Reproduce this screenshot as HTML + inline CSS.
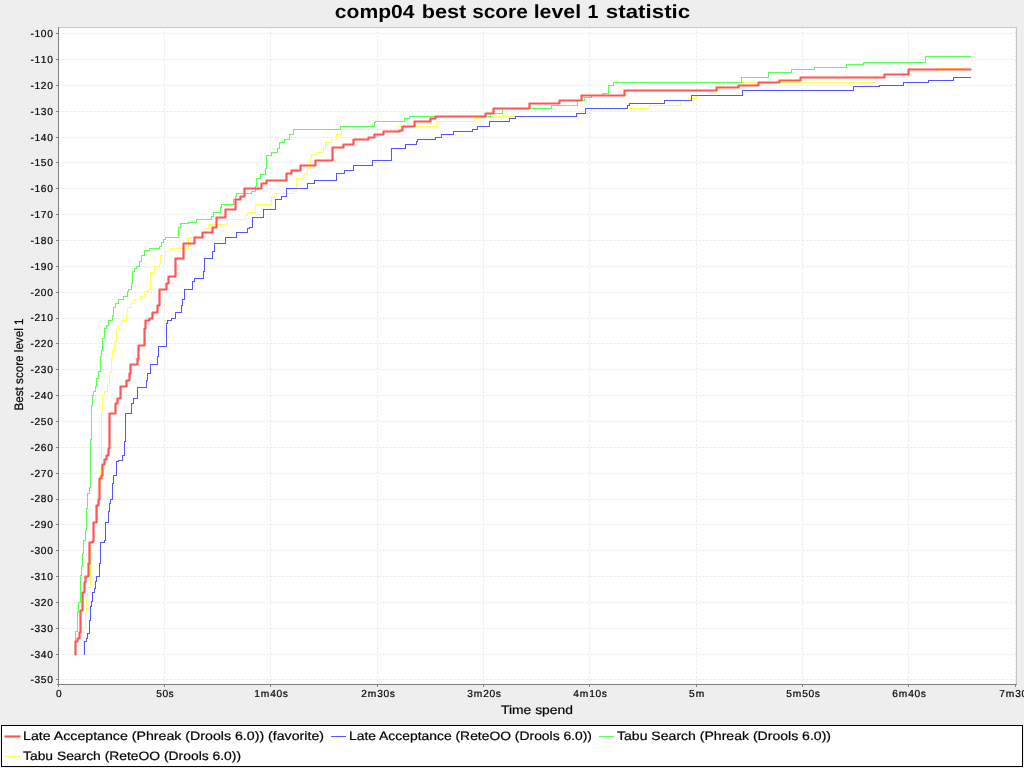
<!DOCTYPE html>
<html><head><meta charset="utf-8"><title>comp04 best score level 1 statistic</title>
<style>html,body{margin:0;padding:0;width:1024px;height:768px;overflow:hidden;background:#eeeeee;font-family:"Liberation Sans",sans-serif}</style>
</head><body>
<svg width="1024" height="768" viewBox="0 0 1024 768" style="position:absolute;left:0;top:0;will-change:transform">
<rect x="0" y="0" width="1024" height="768" fill="#eeeeee"/>
<rect x="58" y="27" width="958" height="657" fill="#ffffff"/>
<path d="M58 33.5 H1016 M58 59.5 H1016 M58 85.5 H1016 M58 111.5 H1016 M58 137.5 H1016 M58 162.5 H1016 M58 188.5 H1016 M58 214.5 H1016 M58 240.5 H1016 M58 266.5 H1016 M58 292.5 H1016 M58 318.5 H1016 M58 343.5 H1016 M58 369.5 H1016 M58 395.5 H1016 M58 421.5 H1016 M58 447.5 H1016 M58 473.5 H1016 M58 499.5 H1016 M58 524.5 H1016 M58 550.5 H1016 M58 576.5 H1016 M58 602.5 H1016 M58 628.5 H1016 M58 654.5 H1016 M58 679.5 H1016 M164.5 27 V684 M270.5 27 V684 M377.5 27 V684 M483.5 27 V684 M589.5 27 V684 M696.5 27 V684 M802.5 27 V684 M908.5 27 V684 M1015.5 27 V684" stroke="#e6e6e6" stroke-width="1" stroke-dasharray="2 2" stroke-dashoffset="-0.5" fill="none"/>
<path d="M58 27.5 H1016.5 V684" stroke="#c4c4c4" stroke-width="1" fill="none"/>
<path d="M83.5 654.5H83.5V627.5H85.5V612.5H86.5V597.5H87.5V587.5H90.5V545.5H93.5V522.5H97.5V487.5H100.5V470.5H101.5V411.5H102.5V395.5H104.5V391.5H107.5V385.5H109.5V372.5H111.5V358.5H112.5V350.5H114.5V341.5H116.5V329.5H118.5V325.5H121.5V320.5H126.5V314.5H127.5V307.5H131.5V303.5H134.5V299.5H140.5V296.5H144.5V291.5H148.5V289.5H150.5V278.5H150.5V272.5H154.5V266.5H159.5V263.5H160.5V255.5H165.5V251.5H170.5V248.5H188.5V238.5H191.5V237.5H205.5V228.5H208.5V224.5H227.5V219.5H245.5V215.5H247.5V212.5H255.5V204.5H271.5V197.5H274.5V193.5H293.5V191.5H296.5V178.5H303.5V174.5H307.5V168.5H310.5V158.5H311.5V154.5H315.5V152.5H323.5V148.5H325.5V142.5H331.5V139.5H336.5V134.5H341.5V129.5H397.5V126.5H436.5V121.5H474.5V118.5H480.5V117.5H486.5V116.5H577.5V113.5H591.5V108.5H649.5V105.5H680.5V100.5H688.5V98.5H696.5V95.5H709.5V93.5H716.5V86.5H723.5V83.5H741.5V82.5H875.5V77.5H908.5V71.5H936.5V68.5H963.5V67.5H970.5V67.5" stroke="#ffff55" stroke-width="1" fill="none" stroke-linejoin="miter" shape-rendering="crispEdges"/>
<path d="M75.5 654.5H75.5V631.5H77.5V612.5H78.5V602.5H80.5V575.5H81.5V566.5H82.5V553.5H83.5V540.5H85.5V530.5H86.5V508.5H87.5V493.5H89.5V487.5H90.5V470.5H90.5V439.5H91.5V405.5H92.5V395.5H93.5V391.5H95.5V386.5H96.5V378.5H98.5V371.5H100.5V356.5H101.5V350.5H102.5V338.5H104.5V328.5H106.5V325.5H108.5V320.5H112.5V315.5H113.5V307.5H115.5V303.5H118.5V299.5H123.5V296.5H127.5V291.5H128.5V289.5H131.5V283.5H132.5V278.5H132.5V271.5H134.5V268.5H136.5V266.5H139.5V261.5H141.5V255.5H144.5V250.5H149.5V248.5H159.5V246.5H161.5V242.5H163.5V239.5H165.5V237.5H178.5V227.5H180.5V223.5H188.5V222.5H196.5V219.5H211.5V216.5H213.5V212.5H220.5V207.5H221.5V204.5H233.5V199.5H235.5V196.5H236.5V193.5H251.5V191.5H255.5V186.5H256.5V178.5H260.5V174.5H265.5V168.5H266.5V155.5H271.5V152.5H277.5V148.5H279.5V142.5H284.5V139.5H289.5V134.5H293.5V129.5H340.5V126.5H374.5V122.5H375.5V121.5H404.5V118.5H409.5V116.5H490.5V113.5H502.5V108.5H551.5V105.5H577.5V100.5H584.5V97.5H591.5V95.5H602.5V93.5H608.5V85.5H613.5V82.5H741.5V77.5H768.5V72.5H791.5V69.5H814.5V67.5H846.5V64.5H863.5V62.5H925.5V56.5H970.5V56.5" stroke="#55ff55" stroke-width="1" fill="none" stroke-linejoin="miter" shape-rendering="crispEdges"/>
<path d="M84.5 654.5H84.5V641.5H86.5V638.5H87.5V633.5H89.5V620.5H90.5V606.5H91.5V601.5H92.5V592.5H94.5V588.5H95.5V581.5H96.5V576.5H99.5V563.5H100.5V542.5H104.5V540.5H105.5V522.5H108.5V511.5H109.5V503.5H110.5V499.5H112.5V483.5H113.5V475.5H116.5V470.5H116.5V461.5H118.5V460.5H122.5V455.5H124.5V441.5H125.5V413.5H131.5V403.5H133.5V398.5H137.5V387.5H146.5V380.5H147.5V373.5H150.5V364.5H157.5V356.5H158.5V346.5H166.5V323.5H167.5V320.5H171.5V318.5H175.5V312.5H181.5V305.5H182.5V299.5H184.5V289.5H192.5V281.5H194.5V278.5H203.5V271.5H204.5V258.5H212.5V251.5H214.5V243.5H225.5V237.5H236.5V232.5H247.5V228.5H249.5V227.5H252.5V217.5H263.5V209.5H275.5V199.5H281.5V196.5H286.5V188.5H307.5V183.5H314.5V180.5H336.5V173.5H344.5V170.5H353.5V165.5H372.5V160.5H391.5V148.5H405.5V144.5H416.5V141.5H417.5V139.5H435.5V137.5H441.5V134.5H453.5V131.5H472.5V129.5H477.5V126.5H489.5V121.5H509.5V118.5H515.5V116.5H576.5V113.5H585.5V108.5H627.5V105.5H629.5V103.5H664.5V100.5H691.5V95.5H742.5V90.5H853.5V86.5H879.5V85.5H903.5V82.5H928.5V80.5H953.5V77.5H970.5V77.5" stroke="#5555ff" stroke-width="1" fill="none" stroke-linejoin="miter" shape-rendering="crispEdges"/>
<path d="M75.5 654.5H75.5V641.5H77.5V638.5H79.5V632.5H80.5V610.5H82.5V601.5H82.5V592.5H84.5V582.5H85.5V576.5H88.5V563.5H89.5V542.5H92.5V541.5H93.5V522.5H96.5V505.5H98.5V499.5H99.5V478.5H101.5V475.5H102.5V470.5H102.5V464.5H104.5V459.5H106.5V455.5H108.5V448.5H109.5V413.5H115.5V403.5H117.5V398.5H120.5V386.5H126.5V380.5H129.5V373.5H130.5V364.5H137.5V358.5H138.5V345.5H144.5V328.5H145.5V320.5H149.5V318.5H152.5V312.5H157.5V305.5H159.5V289.5H166.5V283.5H168.5V278.5H168.5V276.5H175.5V258.5H183.5V243.5H194.5V237.5H202.5V232.5H212.5V227.5H216.5V217.5H225.5V209.5H235.5V199.5H240.5V196.5H244.5V188.5H261.5V183.5H266.5V180.5H286.5V173.5H291.5V170.5H300.5V165.5H315.5V160.5H332.5V147.5H343.5V144.5H353.5V139.5H368.5V137.5H374.5V134.5H383.5V131.5H399.5V130.5H402.5V126.5H414.5V121.5H430.5V118.5H435.5V116.5H485.5V113.5H493.5V108.5H529.5V103.5H559.5V100.5H581.5V95.5H624.5V90.5H716.5V87.5H738.5V85.5H758.5V82.5H779.5V80.5H800.5V77.5H884.5V74.5H908.5V69.5H970.5V69.5" stroke="#ff5555" stroke-width="2.2" fill="none" stroke-linejoin="round" stroke-linecap="round"/>
<path d="M58.5 27 V685 M57 684.5 H1017" stroke="#808080" stroke-width="1" fill="none"/>
<path d="M56 33.5 H58 M56 59.5 H58 M56 85.5 H58 M56 111.5 H58 M56 137.5 H58 M56 162.5 H58 M56 188.5 H58 M56 214.5 H58 M56 240.5 H58 M56 266.5 H58 M56 292.5 H58 M56 318.5 H58 M56 343.5 H58 M56 369.5 H58 M56 395.5 H58 M56 421.5 H58 M56 447.5 H58 M56 473.5 H58 M56 499.5 H58 M56 524.5 H58 M56 550.5 H58 M56 576.5 H58 M56 602.5 H58 M56 628.5 H58 M56 654.5 H58 M56 679.5 H58 M58.5 685 V687 M164.5 685 V687 M270.5 685 V687 M377.5 685 V687 M483.5 685 V687 M589.5 685 V687 M696.5 685 V687 M802.5 685 V687 M908.5 685 V687 M1015.5 685 V687" stroke="#808080" stroke-width="1" fill="none"/>
<text x="30.62 34.46 40.82 47.18" y="37" font-family="Liberation Sans, sans-serif" text-rendering="geometricPrecision" stroke="#000" stroke-width="0.2" font-size="10.2" fill="#000">-100</text>
<text x="30.62 34.46 40.82 47.18" y="63" font-family="Liberation Sans, sans-serif" text-rendering="geometricPrecision" stroke="#000" stroke-width="0.2" font-size="10.2" fill="#000">-110</text>
<text x="30.62 34.46 40.82 47.18" y="89" font-family="Liberation Sans, sans-serif" text-rendering="geometricPrecision" stroke="#000" stroke-width="0.2" font-size="10.2" fill="#000">-120</text>
<text x="30.62 34.46 40.82 47.18" y="115" font-family="Liberation Sans, sans-serif" text-rendering="geometricPrecision" stroke="#000" stroke-width="0.2" font-size="10.2" fill="#000">-130</text>
<text x="30.62 34.46 40.82 47.18" y="141" font-family="Liberation Sans, sans-serif" text-rendering="geometricPrecision" stroke="#000" stroke-width="0.2" font-size="10.2" fill="#000">-140</text>
<text x="30.62 34.46 40.82 47.18" y="166" font-family="Liberation Sans, sans-serif" text-rendering="geometricPrecision" stroke="#000" stroke-width="0.2" font-size="10.2" fill="#000">-150</text>
<text x="30.62 34.46 40.82 47.18" y="192" font-family="Liberation Sans, sans-serif" text-rendering="geometricPrecision" stroke="#000" stroke-width="0.2" font-size="10.2" fill="#000">-160</text>
<text x="30.62 34.46 40.82 47.18" y="218" font-family="Liberation Sans, sans-serif" text-rendering="geometricPrecision" stroke="#000" stroke-width="0.2" font-size="10.2" fill="#000">-170</text>
<text x="30.62 34.46 40.82 47.18" y="244" font-family="Liberation Sans, sans-serif" text-rendering="geometricPrecision" stroke="#000" stroke-width="0.2" font-size="10.2" fill="#000">-180</text>
<text x="30.62 34.46 40.82 47.18" y="270" font-family="Liberation Sans, sans-serif" text-rendering="geometricPrecision" stroke="#000" stroke-width="0.2" font-size="10.2" fill="#000">-190</text>
<text x="30.62 34.46 40.82 47.18" y="296" font-family="Liberation Sans, sans-serif" text-rendering="geometricPrecision" stroke="#000" stroke-width="0.2" font-size="10.2" fill="#000">-200</text>
<text x="30.62 34.46 40.82 47.18" y="321" font-family="Liberation Sans, sans-serif" text-rendering="geometricPrecision" stroke="#000" stroke-width="0.2" font-size="10.2" fill="#000">-210</text>
<text x="30.62 34.46 40.82 47.18" y="347" font-family="Liberation Sans, sans-serif" text-rendering="geometricPrecision" stroke="#000" stroke-width="0.2" font-size="10.2" fill="#000">-220</text>
<text x="30.62 34.46 40.82 47.18" y="373" font-family="Liberation Sans, sans-serif" text-rendering="geometricPrecision" stroke="#000" stroke-width="0.2" font-size="10.2" fill="#000">-230</text>
<text x="30.62 34.46 40.82 47.18" y="399" font-family="Liberation Sans, sans-serif" text-rendering="geometricPrecision" stroke="#000" stroke-width="0.2" font-size="10.2" fill="#000">-240</text>
<text x="30.62 34.46 40.82 47.18" y="425" font-family="Liberation Sans, sans-serif" text-rendering="geometricPrecision" stroke="#000" stroke-width="0.2" font-size="10.2" fill="#000">-250</text>
<text x="30.62 34.46 40.82 47.18" y="451" font-family="Liberation Sans, sans-serif" text-rendering="geometricPrecision" stroke="#000" stroke-width="0.2" font-size="10.2" fill="#000">-260</text>
<text x="30.62 34.46 40.82 47.18" y="477" font-family="Liberation Sans, sans-serif" text-rendering="geometricPrecision" stroke="#000" stroke-width="0.2" font-size="10.2" fill="#000">-270</text>
<text x="30.62 34.46 40.82 47.18" y="502" font-family="Liberation Sans, sans-serif" text-rendering="geometricPrecision" stroke="#000" stroke-width="0.2" font-size="10.2" fill="#000">-280</text>
<text x="30.62 34.46 40.82 47.18" y="528" font-family="Liberation Sans, sans-serif" text-rendering="geometricPrecision" stroke="#000" stroke-width="0.2" font-size="10.2" fill="#000">-290</text>
<text x="30.62 34.46 40.82 47.18" y="554" font-family="Liberation Sans, sans-serif" text-rendering="geometricPrecision" stroke="#000" stroke-width="0.2" font-size="10.2" fill="#000">-300</text>
<text x="30.62 34.46 40.82 47.18" y="580" font-family="Liberation Sans, sans-serif" text-rendering="geometricPrecision" stroke="#000" stroke-width="0.2" font-size="10.2" fill="#000">-310</text>
<text x="30.62 34.46 40.82 47.18" y="606" font-family="Liberation Sans, sans-serif" text-rendering="geometricPrecision" stroke="#000" stroke-width="0.2" font-size="10.2" fill="#000">-320</text>
<text x="30.62 34.46 40.82 47.18" y="632" font-family="Liberation Sans, sans-serif" text-rendering="geometricPrecision" stroke="#000" stroke-width="0.2" font-size="10.2" fill="#000">-330</text>
<text x="30.62 34.46 40.82 47.18" y="658" font-family="Liberation Sans, sans-serif" text-rendering="geometricPrecision" stroke="#000" stroke-width="0.2" font-size="10.2" fill="#000">-340</text>
<text x="30.62 34.46 40.82 47.18" y="683" font-family="Liberation Sans, sans-serif" text-rendering="geometricPrecision" stroke="#000" stroke-width="0.2" font-size="10.2" fill="#000">-350</text>
<text x="55.96" y="697" font-family="Liberation Sans, sans-serif" text-rendering="geometricPrecision" stroke="#000" stroke-width="0.2" font-size="10.2" fill="#000">0</text>
<text x="156.18 162.54 168.61" y="697" font-family="Liberation Sans, sans-serif" text-rendering="geometricPrecision" stroke="#000" stroke-width="0.2" font-size="10.2" fill="#000">50s</text>
<text x="254.13 260.77 270.23 276.59 282.66" y="697" font-family="Liberation Sans, sans-serif" text-rendering="geometricPrecision" stroke="#000" stroke-width="0.2" font-size="10.2" fill="#000">1m40s</text>
<text x="361.13 367.77 377.23 383.59 389.66" y="697" font-family="Liberation Sans, sans-serif" text-rendering="geometricPrecision" stroke="#000" stroke-width="0.2" font-size="10.2" fill="#000">2m30s</text>
<text x="467.13 473.77 483.23 489.59 495.66" y="697" font-family="Liberation Sans, sans-serif" text-rendering="geometricPrecision" stroke="#000" stroke-width="0.2" font-size="10.2" fill="#000">3m20s</text>
<text x="573.13 579.77 589.23 595.59 601.66" y="697" font-family="Liberation Sans, sans-serif" text-rendering="geometricPrecision" stroke="#000" stroke-width="0.2" font-size="10.2" fill="#000">4m10s</text>
<text x="689.09 695.73" y="697" font-family="Liberation Sans, sans-serif" text-rendering="geometricPrecision" stroke="#000" stroke-width="0.2" font-size="10.2" fill="#000">5m</text>
<text x="786.13 792.77 802.23 808.59 814.66" y="697" font-family="Liberation Sans, sans-serif" text-rendering="geometricPrecision" stroke="#000" stroke-width="0.2" font-size="10.2" fill="#000">5m50s</text>
<text x="892.13 898.77 908.23 914.59 920.66" y="697" font-family="Liberation Sans, sans-serif" text-rendering="geometricPrecision" stroke="#000" stroke-width="0.2" font-size="10.2" fill="#000">6m40s</text>
<text x="999.13 1005.77 1015.23 1021.59 1027.66" y="697" font-family="Liberation Sans, sans-serif" text-rendering="geometricPrecision" stroke="#000" stroke-width="0.2" font-size="10.2" fill="#000">7m30s</text>
<text x="537" y="714" font-family="Liberation Sans, sans-serif" text-rendering="geometricPrecision" stroke="#000" stroke-width="0.2" font-size="12.2" text-anchor="middle" textLength="72" lengthAdjust="spacingAndGlyphs" fill="#000">Time spend</text>
<text transform="translate(22.5 364.5) rotate(-90)" x="0" y="0" font-family="Liberation Sans, sans-serif" text-rendering="geometricPrecision" stroke="#000" stroke-width="0.2" font-size="12.2" text-anchor="middle" textLength="92" lengthAdjust="spacingAndGlyphs" fill="#000">Best score level 1</text>
<text x="334.80" y="18" font-family="Liberation Sans, sans-serif" text-rendering="geometricPrecision" font-weight="bold" font-size="19" textLength="79.75" lengthAdjust="spacingAndGlyphs" fill="#000">comp04</text>
<text x="421.70" y="18" font-family="Liberation Sans, sans-serif" text-rendering="geometricPrecision" font-weight="bold" font-size="19" textLength="44.60" lengthAdjust="spacingAndGlyphs" fill="#000">best</text>
<text x="472.20" y="18" font-family="Liberation Sans, sans-serif" text-rendering="geometricPrecision" font-weight="bold" font-size="19" textLength="55.60" lengthAdjust="spacingAndGlyphs" fill="#000">score</text>
<text x="533.70" y="18" font-family="Liberation Sans, sans-serif" text-rendering="geometricPrecision" font-weight="bold" font-size="19" textLength="47.40" lengthAdjust="spacingAndGlyphs" fill="#000">level</text>
<text x="587.50" y="18" font-family="Liberation Sans, sans-serif" text-rendering="geometricPrecision" font-weight="bold" font-size="19" textLength="10.90" lengthAdjust="spacingAndGlyphs" fill="#000">1</text>
<text x="605.80" y="18" font-family="Liberation Sans, sans-serif" text-rendering="geometricPrecision" font-weight="bold" font-size="19" textLength="84.40" lengthAdjust="spacingAndGlyphs" fill="#000">statistic</text>
<rect x="1.5" y="725.5" width="1021" height="41" fill="#ffffff" stroke="#000000" stroke-width="1"/>
<path d="M4.5 736.5 H20.5" stroke="#ff5555" stroke-width="2.2"/>
<path d="M331 736.5 H346" stroke="#5555ff" stroke-width="1"/>
<path d="M599 736.5 H614" stroke="#55ff55" stroke-width="1"/>
<path d="M5 756.5 H20" stroke="#ffff55" stroke-width="1"/>
<text x="23" y="740" font-family="Liberation Sans, sans-serif" text-rendering="geometricPrecision" stroke="#000" stroke-width="0.2" font-size="12.2" textLength="301" lengthAdjust="spacingAndGlyphs" fill="#000">Late Acceptance (Phreak (Drools 6.0)) (favorite)</text>
<text x="349" y="740" font-family="Liberation Sans, sans-serif" text-rendering="geometricPrecision" stroke="#000" stroke-width="0.2" font-size="12.2" textLength="243" lengthAdjust="spacingAndGlyphs" fill="#000">Late Acceptance (ReteOO (Drools 6.0))</text>
<text x="617" y="740" font-family="Liberation Sans, sans-serif" text-rendering="geometricPrecision" stroke="#000" stroke-width="0.2" font-size="12.2" textLength="214" lengthAdjust="spacingAndGlyphs" fill="#000">Tabu Search (Phreak (Drools 6.0))</text>
<text x="23" y="760" font-family="Liberation Sans, sans-serif" text-rendering="geometricPrecision" stroke="#000" stroke-width="0.2" font-size="12.2" textLength="218" lengthAdjust="spacingAndGlyphs" fill="#000">Tabu Search (ReteOO (Drools 6.0))</text>
</svg>
</body></html>
